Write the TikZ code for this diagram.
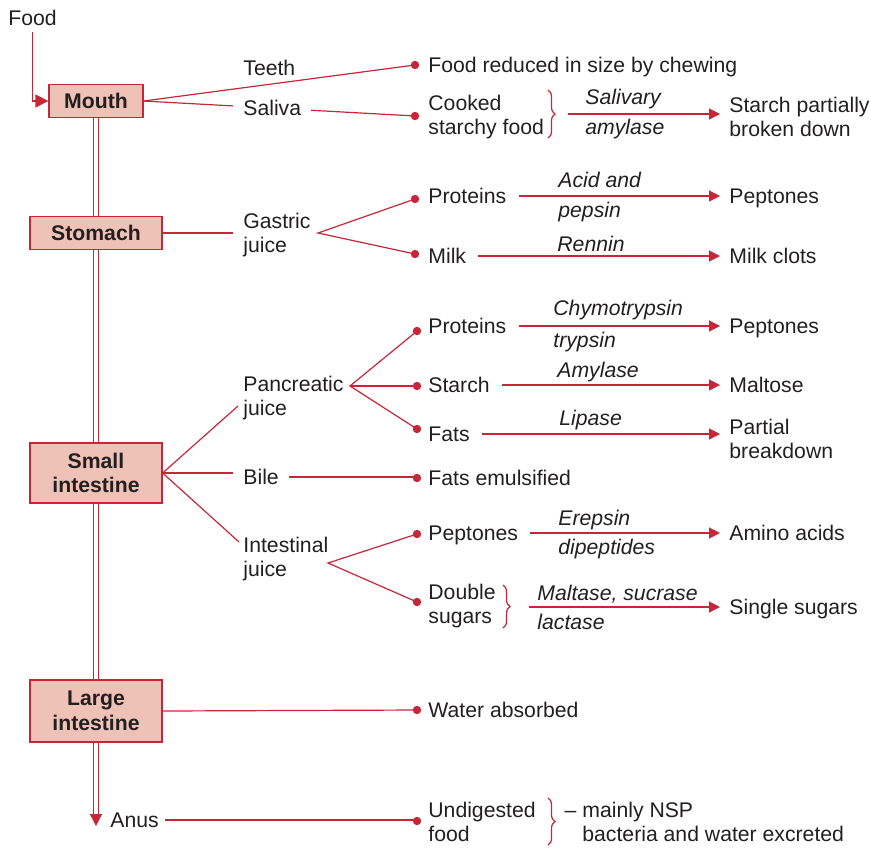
\documentclass[tikz,border=0pt]{standalone}
\usepackage{fontspec}
\setmainfont{Liberation Sans}
\usetikzlibrary{calc}
\usetikzlibrary{positioning}
\usetikzlibrary{arrows.meta}
\usetikzlibrary{decorations.pathreplacing}
\definecolor{gutred}{RGB}{200,38,56}
\definecolor{gutfill}{RGB}{238,194,182}
\definecolor{ink}{RGB}{35,31,32}
\tikzstyle{organ}=[%
  draw=gutred,
  fill=gutfill,
  line width=0.6pt,
  font=\bfseries,
  text=ink,
  align=center,
  inner sep=0pt
]
\tikzstyle{plain}=[anchor=west, inner sep=0pt, align=left, text=ink]
\tikzstyle{item}=[plain, yshift=-1pt]
\tikzstyle{word}=[plain, text height=8.7pt, text depth=1.3pt]
\tikzstyle{enzyme}=[word, font=\itshape]
\tikzstyle{link}=[draw=gutred, line width=0.6pt]
\tikzstyle{reaction}=[link, shorten <=6pt, shorten >=4.5pt, -{Triangle[width=5.5pt,length=5.5pt]}]
\tikzstyle{tube}=[draw=gutred, double=white, double distance=1.6pt, line width=0.8pt]
\tikzstyle{curly}=[draw=gutred, line width=0.6pt, decorate, decoration={brace, amplitude=3.5pt}]

\begin{document}
\fontsize{10.6}{12.4}\selectfont
\begin{tikzpicture}[x=0.5pt, y=-0.5pt]
    \useasboundingbox (0,0) rectangle (871,847);

    \node[organ, minimum width=47pt, minimum height=16.5pt] (mouth) at (96,101) {Mouth};
    \node[organ, minimum width=66pt, minimum height=16.5pt] (stomach) at (96,233) {Stomach};
    \node[organ, minimum width=66pt, minimum height=30pt] (small) at (96,473) {Small\\intestine};
    \node[organ, minimum width=66pt, minimum height=31pt] (large) at (96,711) {Large\\intestine};
    \coordinate (tubeend) at (96,814);
    \coordinate (tubetip) at (96,826);
    \draw[tube] (mouth) -- (stomach);
    \draw[tube] (stomach) -- (small);
    \draw[tube] (small) -- (large);
    \draw[tube] (large) -- (tubeend);
    \draw[link, -{Triangle[width=6pt,length=6pt]}] (tubeend) -- (tubetip);

    \node[word] (food) at (8,18) {Food};
    \draw[link, shorten <=2pt, -{Triangle[width=6.5pt,length=6.5pt]}] (food.south) |- (mouth.west);

    \foreach \name/\x/\y in {dteeth/415/65, dcooked/415/116, dsprot/415/199, dmilk/415/254,
      dpprot/417/331, dstarch/417/386, dfats/417/429, dbile/417/478, dipep/417/534,
      ddouble/417/602, dwater/417/710, dundig/417/821} {%
      \coordinate (\name) at (\x,\y);
      \fill[gutred] (\name) circle (2.1pt);
    }
    \coordinate (vgastric) at (318,233);
    \coordinate (vpanc) at (350,386);
    \coordinate (vintest) at (328,563);
    \coordinate (jpanc) at (238,406);
    \coordinate (jintest) at (239,542);
    \coordinate (acooked) at (568,114);
    \coordinate (adouble) at (529,607);

    % mouth
    \draw[link] (mouth.east) -- (dteeth);
    \draw[link] (mouth.east) -- (dcooked);
    \node[word] (teeth) at (243,68) {Teeth};
    \node[word, fill=white, inner xsep=5pt] (saliva) at (233,108) {Saliva};
    \node[word] (chewed) at (428,65) {Food reduced in size by chewing};
    \node[item] (cooked) at (428,115) {Cooked\\starchy food};
    \node[item] (starchpart) at (729,115) {Starch partially\\broken down};
    \draw[curly] (548,90) -- (548,138);
    \draw[reaction, shorten <=0pt] (acooked) -- (acooked -| starchpart.west);
    \node[enzyme] at (585,97) {Salivary};
    \node[enzyme] at (585,127) {amylase};

    % stomach
    \node[item] (gastric) at (243,233) {Gastric\\juice};
    \draw[link, shorten >=5pt] (stomach.east) -- (stomach.east -| gastric.west);
    \draw[link] (dsprot) -- (vgastric) -- (dmilk);
    \node[word] (sproteins) at (428,196) {Proteins};
    \node[word] (speptones) at (729,196) {Peptones};
    \draw[reaction] (sproteins.east) -- (speptones.west);
    \node[enzyme] at (558,180) {Acid and};
    \node[enzyme] at (558,210) {pepsin};
    \node[word] (milk) at (428,256) {Milk};
    \node[word] (clots) at (729,256) {Milk clots};
    \draw[reaction] (milk.east) -- (clots.west);
    \node[enzyme] at (557,244) {Rennin};

    % small intestine
    \node[item] (pancreatic) at (243,396) {Pancreatic\\juice};
    \node[word] (bile) at (243,477) {Bile};
    \node[item] (intestinal) at (243,557) {Intestinal\\juice};
    \draw[link] (small.east) -- (jpanc);
    \draw[link, shorten >=5pt] (small.east) -- (small.east -| bile.west);
    \draw[link] (small.east) -- (jintest);
    \draw[link] (dpprot) -- (vpanc) -- (dfats);
    \draw[link] (vpanc) -- (dstarch);
    \draw[link] (dipep) -- (vintest) -- (ddouble);
    \draw[link, shorten <=5pt] (bile.east) -- (bile.east -| dbile);
    \node[word] (fatsemul) at (428,478) {Fats emulsified};

    \node[word] (pproteins) at (428,326) {Proteins};
    \node[word] (ppeptones) at (729,326) {Peptones};
    \draw[reaction] (pproteins.east) -- (ppeptones.west);
    \node[enzyme] at (553,308) {Chymotrypsin};
    \node[enzyme] at (553,340) {trypsin};
    \node[word] (starch) at (428,385) {Starch};
    \node[word] (maltose) at (729,385) {Maltose};
    \draw[reaction] (starch.east) -- (maltose.west);
    \node[enzyme] at (557,370) {Amylase};
    \node[word] (fats) at (428,434) {Fats};
    \node[item] (partial) at (729,437) {Partial\\breakdown};
    \draw[reaction] (fats.east) -- (fats.east -| partial.west);
    \node[enzyme] at (559,418) {Lipase};

    \node[word] (ipeptones) at (428,533) {Peptones};
    \node[word] (amino) at (729,533) {Amino acids};
    \draw[reaction] (ipeptones.east) -- (amino.west);
    \node[enzyme] at (558,518) {Erepsin};
    \node[enzyme] at (558,547) {dipeptides};
    \node[item] (double) at (428,604) {Double\\sugars};
    \node[word] (single) at (729,607) {Single sugars};
    \draw[curly] (503,585) -- (503,628);
    \draw[reaction, shorten <=0pt] (adouble) -- (adouble -| single.west);
    \node[enzyme] at (537,593) {Maltase, sucrase};
    \node[enzyme] at (537,622) {lactase};

    % large intestine and anus
    \draw[link] (large.east) -- (dwater);
    \node[word] (water) at (428,710) {Water absorbed};
    \node[word] (anus) at (110,820) {Anus};
    \draw[link, shorten <=3pt] (anus.east) -- (anus.east -| dundig);
    \node[item] (undigested) at (428,820) {Undigested\\food};
    \draw[curly] (548,798) -- (548,845);
    \node[item] (excreted) at (582,820) {\llap{– }mainly NSP\\bacteria and water excreted};
\end{tikzpicture}
\end{document}
